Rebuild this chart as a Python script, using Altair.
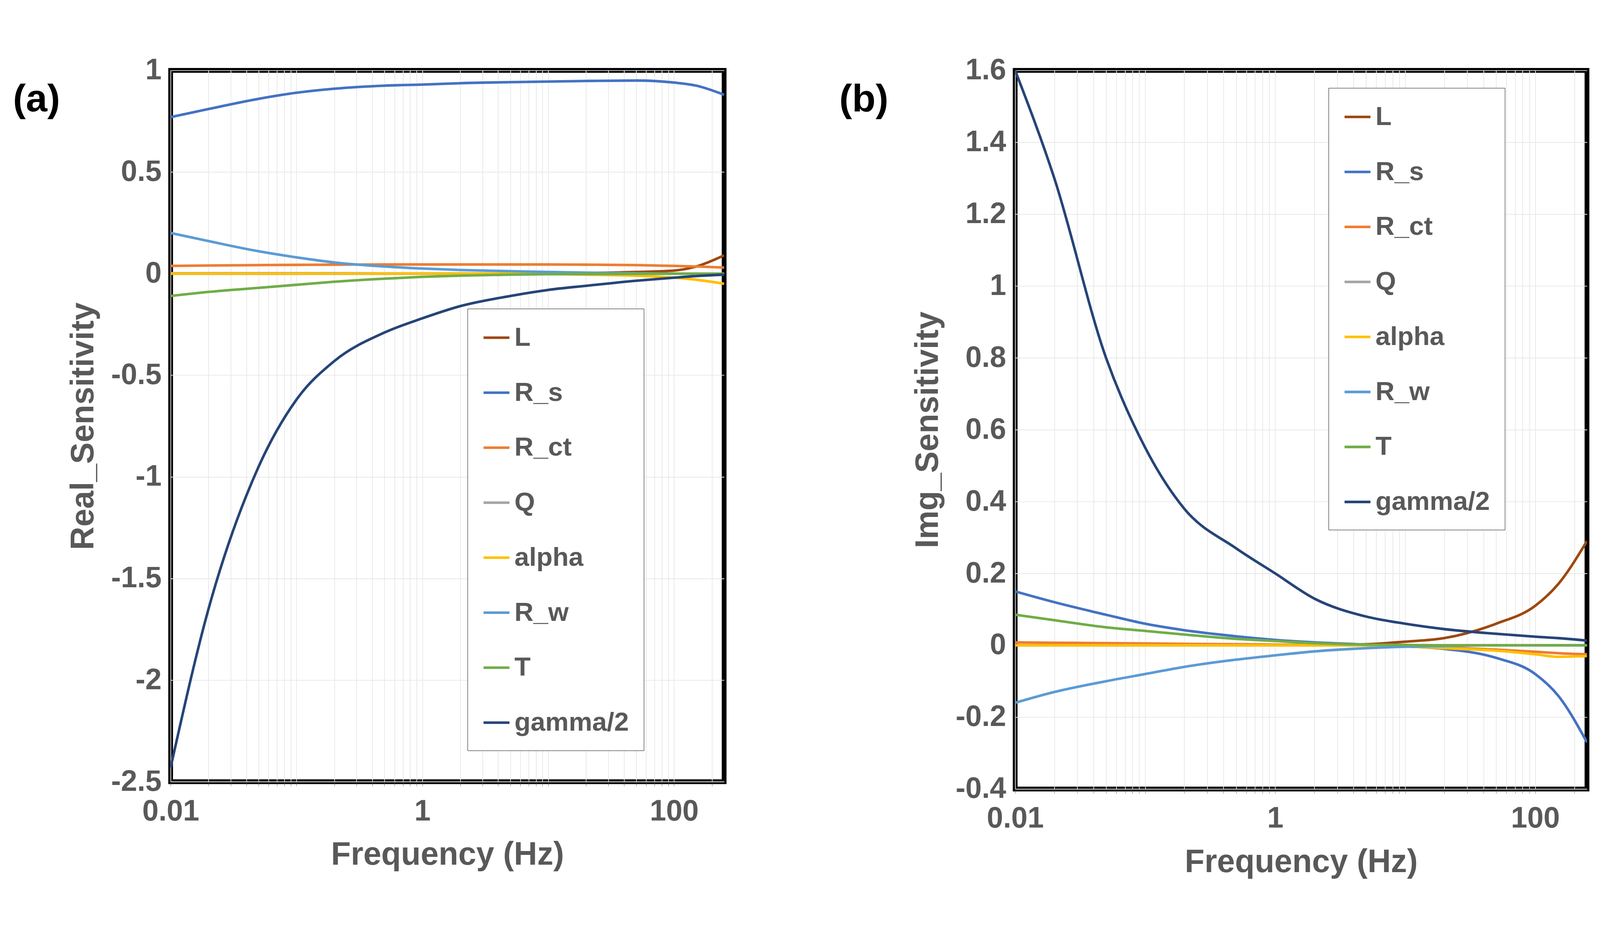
import altair as alt
import pandas as pd

series = ["L", "R_s", "R_ct", "Q", "alpha", "R_w", "T", "gamma/2"]
colors = ["#9E480E", "#4472C4", "#ED7D31", "#A5A5A5", "#FFC000", "#5B9BD5", "#70AD47", "#264478"]

freq = [0.01, 0.02, 0.05, 0.1, 0.2, 0.5, 1, 2, 5, 10, 20, 50, 100, 150, 250]

real = {
    "L":       [0, 0, 0, 0, 0, 0, 0, 0, 0, 0.001, 0.003, 0.008, 0.015, 0.035, 0.09],
    "R_s":     [0.77, 0.81, 0.86, 0.89, 0.91, 0.925, 0.93, 0.937, 0.942, 0.945, 0.948, 0.95, 0.94, 0.925, 0.88],
    "R_ct":    [0.038, 0.040, 0.042, 0.043, 0.044, 0.045, 0.045, 0.045, 0.045, 0.045, 0.044, 0.042, 0.038, 0.035, 0.03],
    "Q":       [0.002, 0.002, 0.002, 0.002, 0.002, 0.001, 0.001, 0.001, 0.001, 0, 0, 0, 0, 0, 0],
    "alpha":   [0, 0, 0, 0, 0, 0, 0, 0, 0, -0.002, -0.005, -0.01, -0.02, -0.03, -0.05],
    "R_w":     [0.2, 0.16, 0.11, 0.08, 0.055, 0.035, 0.025, 0.018, 0.012, 0.008, 0.005, 0.002, 0, 0, 0],
    "T":       [-0.11, -0.09, -0.07, -0.055, -0.04, -0.025, -0.016, -0.01, -0.005, -0.003, -0.002, -0.001, 0, 0, 0],
    "gamma/2": [-2.43, -1.65, -0.95, -0.62, -0.43, -0.29, -0.22, -0.16, -0.11, -0.08, -0.06, -0.035, -0.02, -0.012, -0.005],
}

img = {
    "L":       [0, 0, 0, 0, 0, 0, 0, 0, 0.003, 0.01, 0.02, 0.06, 0.11, 0.17, 0.29],
    "R_s":     [0.15, 0.12, 0.085, 0.06, 0.042, 0.025, 0.015, 0.008, 0.002, -0.003, -0.01, -0.035, -0.08, -0.14, -0.27],
    "R_ct":    [0.008, 0.007, 0.006, 0.005, 0.004, 0.003, 0.002, 0.001, 0, -0.003, -0.006, -0.012, -0.018, -0.022, -0.025],
    "Q":       [0, 0, 0, 0, 0, 0, 0, 0, 0, 0, 0, 0, 0, 0, 0],
    "alpha":   [0, 0, 0, 0, 0, 0, 0, 0, 0, -0.003, -0.008, -0.015, -0.025, -0.032, -0.03],
    "R_w":     [-0.16, -0.13, -0.1, -0.08, -0.06, -0.04, -0.028, -0.017, -0.008, -0.004, -0.002, 0, 0, 0, 0],
    "T":       [0.085, 0.07, 0.05, 0.04, 0.03, 0.018, 0.012, 0.006, 0.002, 0.001, 0, 0, 0, 0, 0],
    "gamma/2": [1.6, 1.3, 0.8, 0.55, 0.38, 0.27, 0.2, 0.13, 0.08, 0.06, 0.045, 0.032, 0.024, 0.02, 0.013],
}

minor = [m * 10.0 ** e for e in (-2, -1, 0, 1, 2) for m in range(1, 10)] + [200.0]
minor = [v for v in minor if v <= 250]
grey = "#595959"
FONT = "Liberation Sans"


def long(d):
    rows = []
    for s in series:
        for f, v in zip(freq, d[s]):
            rows.append({"f": f, "v": v, "s": s})
    return pd.DataFrame(rows)


def panel(d, domain, step, ytitle, lx, ly, label, lxpos, w, h):
    ticks = []
    v = domain[0]
    while v <= domain[1] + 1e-9:
        ticks.append(round(v, 4))
        v += step
    lines = alt.Chart(long(d)).mark_line(strokeWidth=7, interpolate="monotone", clip=True).encode(
        x=alt.X("f:Q", scale=alt.Scale(type="log", domain=[0.01, 250], nice=False),
                title="Frequency (Hz)",
                axis=alt.Axis(values=minor, grid=True, gridColor="#e8e8e8", gridWidth=2,
                              labelExpr="(datum.value==0.01||datum.value==1||datum.value==100) ? datum.label : ''",
                              labelFontSize=80, titleFontSize=88, labelColor=grey, titleColor=grey,
                              labelFont=FONT, titleFont=FONT, labelFontWeight="bold", titleFontWeight="bold",
                              tickColor=grey, tickSize=12, domain=False, labelPadding=30, titlePadding=35,
                              labelFlush=False)),
        y=alt.Y("v:Q", scale=alt.Scale(domain=domain, nice=False), title=ytitle,
                axis=alt.Axis(values=ticks, grid=True, gridColor="#e8e8e8", gridWidth=2,
                              labelExpr="replace(format(datum.value, ''), '−', '-')",
                              labelFontSize=80, titleFontSize=88, labelColor=grey, titleColor=grey,
                              labelFont=FONT, titleFont=FONT, labelFontWeight="bold", titleFontWeight="bold",
                              ticks=False, domain=False, labelPadding=25, titlePadding=30)),
        color=alt.Color("s:N", scale=alt.Scale(domain=series, range=colors), title=None,
                        legend=alt.Legend(orient="none", legendX=lx, legendY=ly, symbolType="stroke",
                                          symbolSize=5000, symbolStrokeWidth=7, labelFontSize=72,
                                          labelFont=FONT, labelFontWeight="bold", labelColor=grey,
                                          rowPadding=75, padding=40, strokeColor="black",
                                          fillColor="white", labelOffset=10, labelLimit=500)),
    )
    tag = alt.Chart(pd.DataFrame({"t": [label]})).mark_text(
        fontSize=105, fontWeight="bold", font=FONT, color="black", align="left", baseline="middle"
    ).encode(text="t:N", x=alt.value(lxpos), y=alt.value(80))
    return (lines + tag).properties(width=w, height=h)


a = panel(real, [-2.5, 1], 0.5, "Real_Sensitivity", 810, 650, "(a)", -430, 1510, 1940)
b = panel(img, [-0.4, 1.6], 0.2, "Img_Sensitivity", 855, 48, "(b)", -480, 1560, 1960)

chart = alt.hconcat(a, b, spacing=300).resolve_scale(color="independent").configure_view(
    stroke="black", strokeWidth=13
).properties(padding={"left": 20, "top": 60, "right": 20, "bottom": 10}, background="white")

chart.save("out.html", embed_options={"renderer": "svg", "actions": False})
